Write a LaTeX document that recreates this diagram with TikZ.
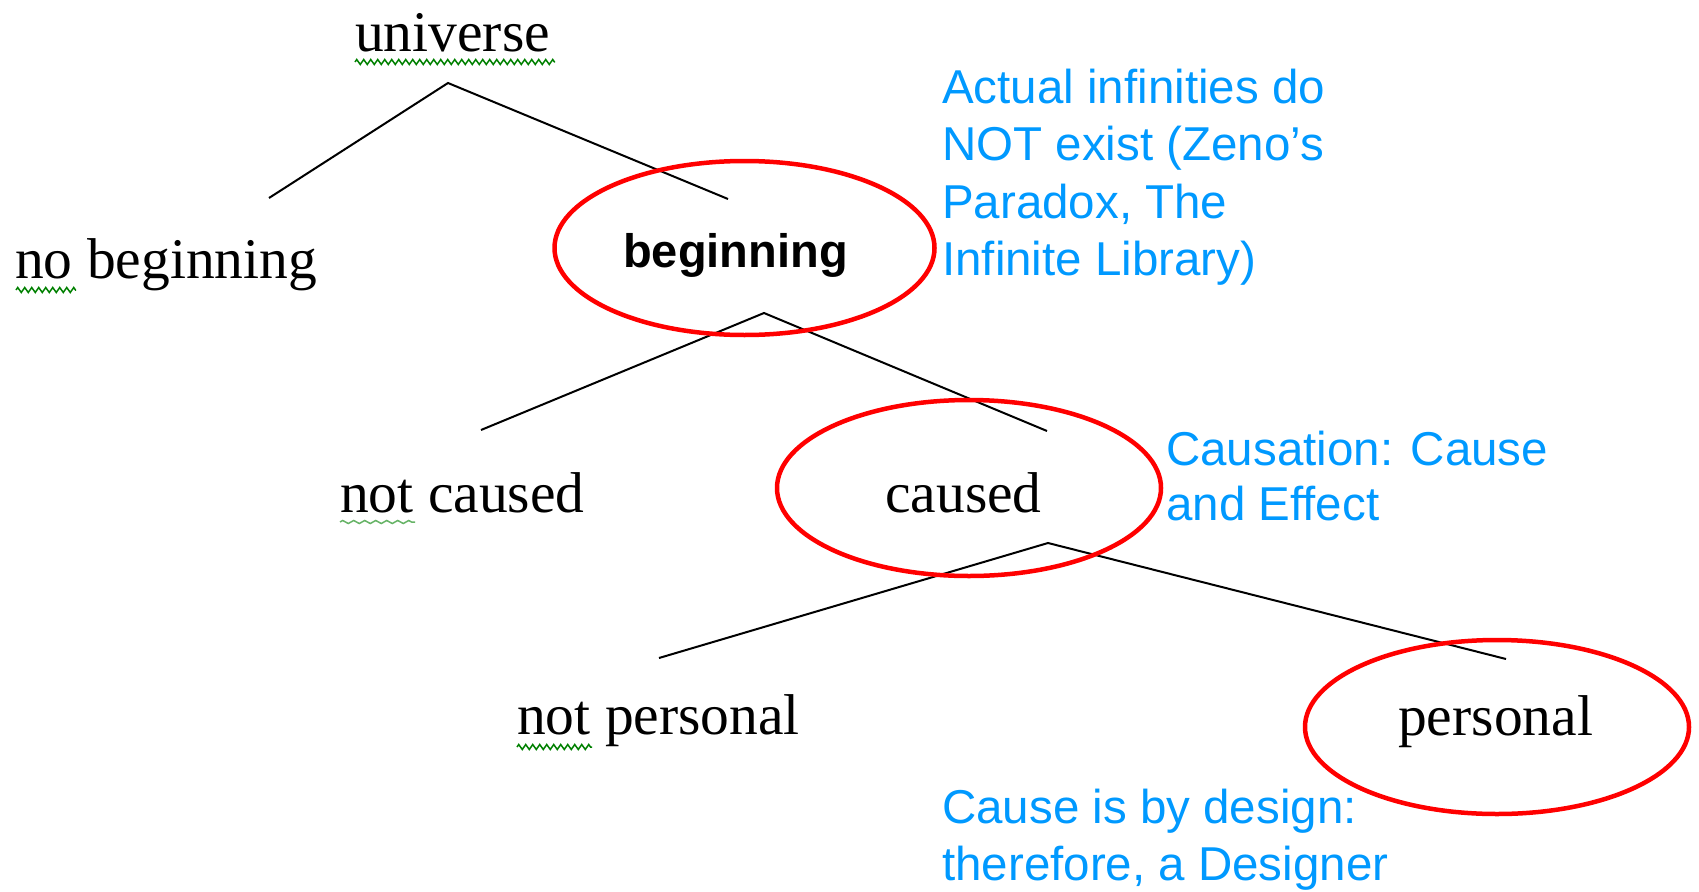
\documentclass[tikz,border=0pt]{standalone}
\usepackage{fontspec}
\setmainfont{Liberation Serif}
\newfontfamily\arialfont{Liberation Sans}
\usetikzlibrary{decorations.pathmorphing}
\definecolor{noteblue}{RGB}{0,153,255}
\definecolor{squig}{RGB}{0,128,0}
\tikzset{
  word/.style={anchor=base west, inner sep=0pt, font=\fontsize{57.5}{60}\selectfont},
  boldword/.style={anchor=base west, inner sep=0pt, font=\arialfont\bfseries\fontsize{47}{50}\selectfont},
  note/.style={anchor=base west, inner sep=0pt, text=noteblue, font=\arialfont\fontsize{47.5}{50}\selectfont},
  branch/.style={draw=black, line width=2pt},
  wavy/.style={draw=squig, line width=1.5pt, decorate, decoration={zigzag, segment length=7pt, amplitude=2.5pt}}
}
\begin{document}
\begin{tikzpicture}[x=1pt,y=-1pt]
\useasboundingbox (0,0) rectangle (1699,891);
% words
\node[word] (universe) at (355,52) {universe};
\node[word] (nobeg) at (15,278) {no beginning};
\node[boldword] (beg) at (623,267) {beginning};
\node[word] (notcaused) at (340,512) {not caused};
\node[word] (caused) at (885,512) {caused};
\node[word] (notpers) at (517,734) {not personal};
\node[word] (pers) at (1398,735) {personal};
% squiggles
\coordinate (u1) at (355,62); \coordinate (u2) at (555,62);
\coordinate (n1) at (16,290); \coordinate (n2) at (76,290);
\coordinate (c1) at (340,522); \coordinate (c2) at (415,522);
\coordinate (p1) at (517,747); \coordinate (p2) at (592,747);
\draw[wavy] (u1) -- (u2);
\draw[wavy] (n1) -- (n2);
\draw[wavy, draw=squig!60, decoration={zigzag, segment length=11pt, amplitude=1.5pt}] (c1) -- (c2);
\draw[wavy] (p1) -- (p2);
% branches
\coordinate (a1) at (448,83);
\coordinate (a1l) at (269,198);
\coordinate (a1r) at (728,199);
\coordinate (a2) at (764,313);
\coordinate (a2l) at (481,430);
\coordinate (a2r) at (1047,431);
\coordinate (a3) at (1048,543);
\coordinate (a3l) at (659,658);
\coordinate (a3r) at (1506,659);
\draw[branch] (a1l) -- (a1) -- (a1r);
\draw[branch] (a2l) -- (a2) -- (a2r);
\draw[branch] (a3l) -- (a3) -- (a3r);
% red ellipses
\draw[red, line width=4.5pt] (744.5,248) ellipse [x radius=190, y radius=87];
\draw[red, line width=4.5pt] (969,488) ellipse [x radius=192, y radius=88];
\draw[red, line width=4.5pt] (1497,727) ellipse [x radius=192, y radius=87];
% notes
\node[note] (t1a) at (942,103) {Actual infinities do};
\node[note] (t1b) at (942,160) {NOT exist (Zeno’s};
\node[note] (t1c) at (942,218) {Paradox, The};
\node[note] (t1d) at (942,275) {Infinite Library)};
\node[note] (t2a) at (1166,465) {Causation: Cause};
\node[note] (t2b) at (1166,520) {and Effect};
\node[note] (t3a) at (942,823) {Cause is by design:};
\node[note] (t3b) at (942,880) {therefore, a Designer};
\end{tikzpicture}
\end{document}
